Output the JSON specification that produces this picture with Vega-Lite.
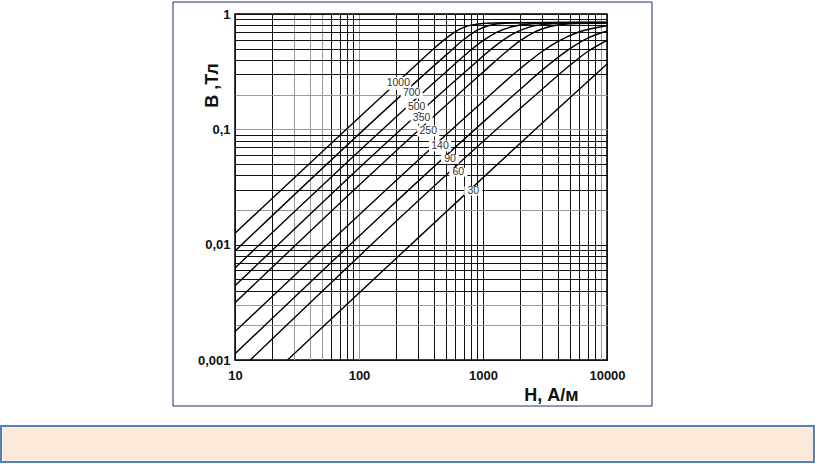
{
  "$schema": "https://vega.github.io/schema/vega-lite/v6.json",
  "width": 372,
  "height": 346,
  "autosize": {"type": "none"},
  "padding": {"left": 235, "top": 14, "right": 208, "bottom": 104},
  "background": "white",
  "config": {
    "view": {"stroke": "#000", "strokeWidth": 1.5},
    "font": "Liberation Sans"
  },
  "datasets": {
    "curves": [
      {"mu": "1000", "H": 10, "B": 0.01257},
      {"mu": "1000", "H": 300, "B": 0.376},
      {"mu": "1000", "H": 400, "B": 0.499},
      {"mu": "1000", "H": 500, "B": 0.611},
      {"mu": "1000", "H": 600, "B": 0.703},
      {"mu": "1000", "H": 700, "B": 0.765},
      {"mu": "1000", "H": 800, "B": 0.8},
      {"mu": "1000", "H": 1000, "B": 0.828},
      {"mu": "1000", "H": 1500, "B": 0.84},
      {"mu": "1000", "H": 10000, "B": 0.85},
      {"mu": "700", "H": 10, "B": 0.0088},
      {"mu": "700", "H": 500, "B": 0.438},
      {"mu": "700", "H": 700, "B": 0.601},
      {"mu": "700", "H": 900, "B": 0.725},
      {"mu": "700", "H": 1100, "B": 0.791},
      {"mu": "700", "H": 1500, "B": 0.831},
      {"mu": "700", "H": 3000, "B": 0.842},
      {"mu": "700", "H": 10000, "B": 0.846},
      {"mu": "500", "H": 10, "B": 0.00628},
      {"mu": "500", "H": 500, "B": 0.313},
      {"mu": "500", "H": 800, "B": 0.488},
      {"mu": "500", "H": 1000, "B": 0.587},
      {"mu": "500", "H": 1300, "B": 0.696},
      {"mu": "500", "H": 1700, "B": 0.775},
      {"mu": "500", "H": 2500, "B": 0.824},
      {"mu": "500", "H": 5000, "B": 0.838},
      {"mu": "500", "H": 10000, "B": 0.842},
      {"mu": "350", "H": 10, "B": 0.0044},
      {"mu": "350", "H": 800, "B": 0.349},
      {"mu": "350", "H": 1200, "B": 0.509},
      {"mu": "350", "H": 1600, "B": 0.637},
      {"mu": "350", "H": 2000, "B": 0.722},
      {"mu": "350", "H": 3000, "B": 0.809},
      {"mu": "350", "H": 5000, "B": 0.835},
      {"mu": "350", "H": 10000, "B": 0.839},
      {"mu": "250", "H": 10, "B": 0.00314},
      {"mu": "250", "H": 1000, "B": 0.313},
      {"mu": "250", "H": 1600, "B": 0.488},
      {"mu": "250", "H": 2000, "B": 0.587},
      {"mu": "250", "H": 2600, "B": 0.696},
      {"mu": "250", "H": 3400, "B": 0.775},
      {"mu": "250", "H": 5000, "B": 0.824},
      {"mu": "250", "H": 10000, "B": 0.836},
      {"mu": "140", "H": 10, "B": 0.00176},
      {"mu": "140", "H": 1000, "B": 0.1745},
      {"mu": "140", "H": 2000, "B": 0.337},
      {"mu": "140", "H": 3000, "B": 0.473},
      {"mu": "140", "H": 4000, "B": 0.577},
      {"mu": "140", "H": 6000, "B": 0.702},
      {"mu": "140", "H": 10000, "B": 0.792},
      {"mu": "90", "H": 10, "B": 0.001131},
      {"mu": "90", "H": 2000, "B": 0.2229},
      {"mu": "90", "H": 3000, "B": 0.326},
      {"mu": "90", "H": 5000, "B": 0.498},
      {"mu": "90", "H": 7000, "B": 0.617},
      {"mu": "90", "H": 10000, "B": 0.712},
      {"mu": "60", "H": 13.27, "B": 0.001},
      {"mu": "60", "H": 3000, "B": 0.2229},
      {"mu": "60", "H": 5000, "B": 0.358},
      {"mu": "60", "H": 7000, "B": 0.473},
      {"mu": "60", "H": 10000, "B": 0.59},
      {"mu": "30", "H": 26.5, "B": 0.001},
      {"mu": "30", "H": 5000, "B": 0.187},
      {"mu": "30", "H": 10000, "B": 0.368}
    ],
    "labels": [
      {"label": "1000", "H": 207.5, "B": 0.2506},
      {"label": "700", "H": 266, "B": 0.206},
      {"label": "500", "H": 292, "B": 0.1575},
      {"label": "350", "H": 320, "B": 0.1249},
      {"label": "250", "H": 362, "B": 0.0968},
      {"label": "140", "H": 450, "B": 0.0718},
      {"label": "90", "H": 542, "B": 0.055},
      {"label": "60", "H": 632, "B": 0.0424},
      {"label": "30", "H": 835, "B": 0.0292}
    ],
    "frame": [
      {"x1": 3.162, "x2": 23060, "y1": 0.000399, "y2": 1.2705}
    ],
    "box": [
      {"x1": 0.1297, "x2": 466800, "y1": 0.0001305, "y2": 0.0002677}
    ]
  },
  "layer": [
    {
      "data": {"name": "curves"},
      "mark": {"type": "line", "color": "#000", "strokeWidth": 1.4, "interpolate": "monotone", "clip": true},
      "encoding": {
        "x": {
          "field": "H", "type": "quantitative",
          "scale": {"type": "log", "domain": [10, 10000], "nice": false},
          "axis": {
            "title": "H, А/м",
            "values": [10, 20, 30, 40, 50, 60, 70, 80, 90, 100, 200, 300, 400, 500, 600, 700, 800, 900, 1000, 2000, 3000, 4000, 5000, 6000, 7000, 8000, 9000, 10000],
            "grid": true,
            "gridColor": {"condition": {"test": "indexof([30, 40, 50, 100, 9000], datum.value) >= 0", "value": "#9a9a9a"}, "value": "#111111"},
            "gridWidth": 1,
            "domain": false,
            "ticks": false,
            "labelExpr": "datum.value == 10 ? '10' : datum.value == 100 ? '100' : datum.value == 1000 ? '1000' : datum.value == 10000 ? '10000' : ''",
            "labelFlush": false,
            "labelOverlap": false,
            "labelPadding": 9,
            "labelFont": "Liberation Sans",
            "labelFontSize": 13,
            "labelFontWeight": "bold",
            "labelColor": "#111111",
            "titleFont": "Liberation Sans",
            "titleFontSize": 18,
            "titleFontWeight": "bold",
            "titleColor": "#111111",
            "titleX": 316,
            "titleY": 35,
            "titleAlign": "center",
            "titleBaseline": "middle"
          }
        },
        "y": {
          "field": "B", "type": "quantitative",
          "scale": {"type": "log", "domain": [0.001, 1], "nice": false},
          "axis": {
            "title": "В ,Тл",
            "values": [0.001, 0.002, 0.003, 0.004, 0.005, 0.006, 0.007, 0.008, 0.009, 0.01, 0.02, 0.03, 0.04, 0.05, 0.06, 0.07, 0.08, 0.09, 0.1, 0.2, 0.3, 0.4, 0.5, 0.6, 0.7, 0.8, 0.9, 1],
            "grid": true,
            "gridColor": {"condition": {"test": "indexof([0.2, 0.1, 0.02, 0.003, 0.002], datum.value) >= 0", "value": "#9a9a9a"}, "value": "#111111"},
            "gridWidth": 1,
            "domain": false,
            "ticks": false,
            "labelExpr": "datum.value == 0.001 ? '0,001' : datum.value == 0.01 ? '0,01' : datum.value == 0.1 ? '0,1' : datum.value == 1 ? '1' : ''",
            "labelOverlap": false,
            "labelPadding": 5,
            "labelFont": "Liberation Sans",
            "labelFontSize": 13,
            "labelFontWeight": "bold",
            "labelColor": "#111111",
            "titleFont": "Liberation Sans",
            "titleFontSize": 18,
            "titleFontWeight": "bold",
            "titleColor": "#111111",
            "titleAngle": 270,
            "titleX": -23,
            "titleY": 71,
            "titleAlign": "center",
            "titleBaseline": "middle"
          }
        },
        "detail": {"field": "mu"}
      }
    },
    {
      "data": {"name": "labels"},
      "mark": {"type": "point", "shape": "M-1,-0.5H1V0.5H-1Z", "filled": true, "color": "white", "opacity": 1, "strokeWidth": 0},
      "encoding": {
        "x": {"field": "H", "type": "quantitative", "scale": {"type": "log", "domain": [10, 10000], "nice": false}},
        "y": {"field": "B", "type": "quantitative", "scale": {"type": "log", "domain": [0.001, 1], "nice": false}},
        "size": {"condition": [{"test": "length(datum.label) == 4", "value": 676}, {"test": "length(datum.label) == 2", "value": 324}], "value": 484}
      }
    },
    {
      "data": {"name": "labels"},
      "mark": {"type": "text", "font": "Liberation Sans", "fontSize": 10.5, "color": "#333333", "align": "center", "baseline": "middle"},
      "encoding": {
        "x": {"field": "H", "type": "quantitative", "scale": {"type": "log", "domain": [10, 10000], "nice": false}},
        "y": {"field": "B", "type": "quantitative", "scale": {"type": "log", "domain": [0.001, 1], "nice": false}},
        "text": {"field": "label"}
      }
    },
    {
      "data": {"name": "frame"},
      "mark": {"type": "rect", "fill": null, "filled": false, "stroke": "#1f2b7a", "strokeWidth": 1, "clip": false},
      "encoding": {
        "x": {"field": "x1", "type": "quantitative", "scale": {"type": "log", "domain": [10, 10000], "nice": false}},
        "x2": {"field": "x2"},
        "y": {"field": "y1", "type": "quantitative", "scale": {"type": "log", "domain": [0.001, 1], "nice": false}},
        "y2": {"field": "y2"}
      }
    },
    {
      "data": {"name": "box"},
      "mark": {"type": "rect", "fill": "#fde9d9", "stroke": "#4f81bd", "strokeWidth": 2, "clip": false},
      "encoding": {
        "x": {"field": "x1", "type": "quantitative", "scale": {"type": "log", "domain": [10, 10000], "nice": false}},
        "x2": {"field": "x2"},
        "y": {"field": "y1", "type": "quantitative", "scale": {"type": "log", "domain": [0.001, 1], "nice": false}},
        "y2": {"field": "y2"}
      }
    }
  ]
}
